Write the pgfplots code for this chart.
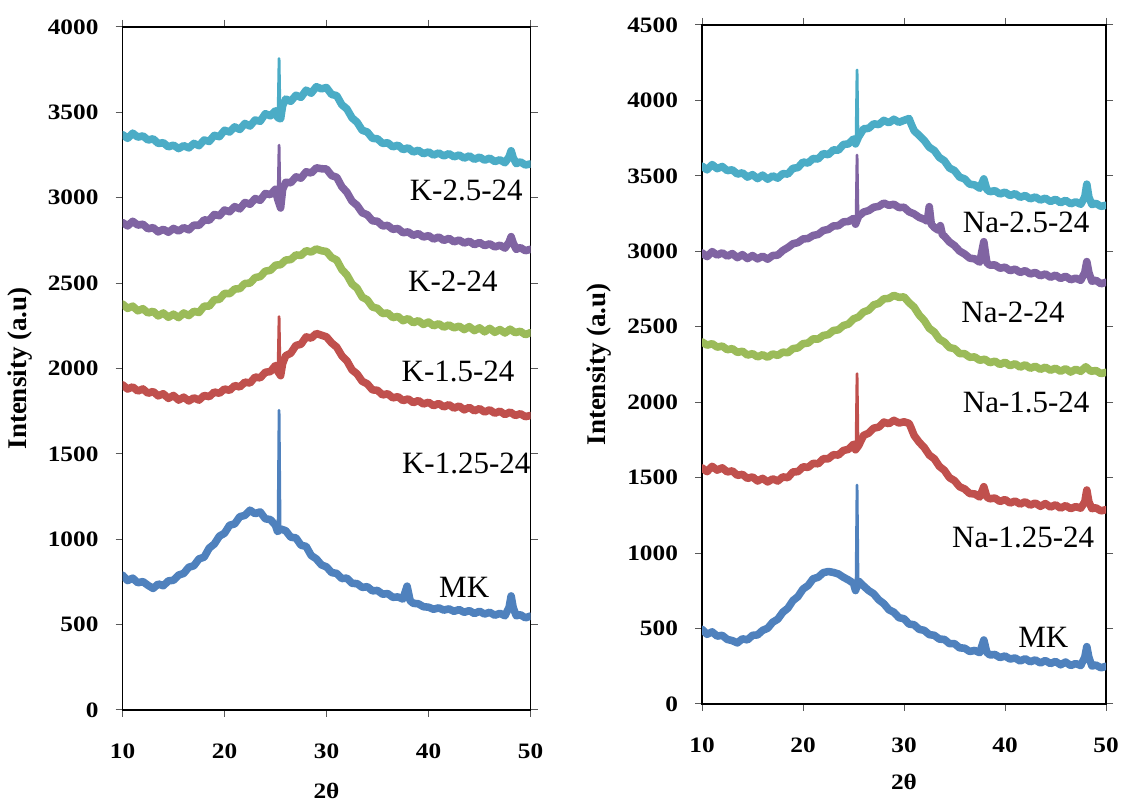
\documentclass[border=0pt]{standalone}
\usepackage{fontspec}
\setmainfont{Liberation Serif}
\newfontfamily\tickfont[FakeStretch=1.15]{Liberation Serif}
\usepackage{pgfplots}
\pgfplotsset{compat=1.18}
\definecolor{cCy}{HTML}{4BACC6}
\definecolor{cPu}{HTML}{8064A2}
\definecolor{cGr}{HTML}{9BBB59}
\definecolor{cRe}{HTML}{C0504D}
\definecolor{cBl}{HTML}{4F81BD}
\pgfplotsset{xrd/.style={
  scale only axis, xmin=10, xmax=50, xtick={10,20,30,40,50},
  tick align=outside, major tick length=3.5pt,
  tick style={gray!70!black, line width=0.5pt},
  axis line style={black, line width=0.7pt},
  ticklabel style={font=\tickfont\bfseries\fontsize{11}{13}\selectfont},
  /pgf/number format/assume math mode=true,
  /pgf/number format/set thousands separator={},
  xticklabel style={yshift=-10pt},
  yticklabel style={xshift=-5pt},
  xlabel={2θ}, ylabel={Intensity (a.u)},
  ylabel style={font=\bfseries\fontsize{13.5}{15}\selectfont},
  xlabel style={font=\tickfont\bfseries\fontsize{11}{13}\selectfont},
  clip mode=individual,
  every axis plot/.append style={line width=3.8pt, line join=round, line cap=round},
}}
\tikzset{lab/.style={font=\fontsize{15.5}{18}\selectfont, anchor=center}}
\begin{document}
\begin{tikzpicture}
\useasboundingbox (0,0) rectangle (561pt,403pt);
% ---------------- left panel ----------------
\begin{axis}[xrd, at={(61.25pt,48pt)}, anchor=south west, width=204pt, height=341.5pt,
  ymin=0, ymax=4000, ytick={0,500,...,4000},
  xlabel style={at={(axis description cs:0.5,-0.118)}, anchor=center},
  ylabel style={at={(axis description cs:-0.25,0.5)}, anchor=center}]
% MK
\addplot[cBl] coordinates {(10,790)(10.5,758)(11,772)(11.5,745)(12,752)(12.5,730)(13,712)(13.5,738)(14,728)(14.5,756)(15,760)(15.5,790)(16,800)(16.5,836)(17,845)(17.5,885)(18,895)(18.5,948)(19,972)(19.5,1018)(20,1035)(20.5,1082)(21,1090)(21.5,1132)(22,1140)(22.5,1170)(23,1150)(23.5,1160)(24,1120)(24.5,1115)(25,1082)(25.2,1045)(25.5,1060)(26,1050)(26.5,1012)(27,1008)(27.5,965)(28,958)(28.5,905)(29,885)(29.5,850)(30,838)(30.5,805)(31,800)(31.5,770)(32,772)(32.5,742)(33,740)(33.5,718)(34,722)(34.5,698)(35,700)(35.5,678)(36,682)(36.5,660)(37,662)(37.5,650)(37.9,725)(38.2,640)(38.5,625)(39,622)(39.5,605)(40,602)(40.5,590)(41,598)(41.5,585)(42,592)(42.5,578)(43,588)(43.5,572)(44,582)(44.5,565)(45,578)(45.5,562)(46,572)(46.5,555)(47,566)(47.5,552)(47.9,600)(48.1,668)(48.3,600)(48.6,552)(49,558)(49.5,540)(50,550)};
\addplot[cBl, line width=1.4pt] coordinates {(25.25,1050)(25.35,1755)(25.45,1070)};
% red
\addplot[cRe] coordinates {(10,1905)(10.5,1880)(11,1892)(11.5,1868)(12,1880)(12.5,1855)(13,1865)(13.5,1840)(14,1852)(14.5,1825)(15,1842)(15.5,1815)(16,1832)(16.5,1810)(17,1828)(17.5,1815)(18,1842)(18.5,1835)(19,1862)(19.5,1855)(20,1880)(20.5,1872)(21,1900)(21.5,1892)(22,1920)(22.5,1915)(23,1950)(23.5,1945)(24,1978)(24.5,1982)(25,2018)(25.2,1985)(25.5,1958)(25.7,2030)(26,2075)(26.5,2090)(27,2135)(27.5,2142)(28,2185)(28.5,2178)(29,2205)(29.5,2195)(30,2185)(30.5,2150)(31,2125)(31.5,2075)(32,2045)(32.5,1992)(33,1968)(33.5,1925)(34,1910)(34.5,1875)(35,1872)(35.5,1845)(36,1852)(36.5,1828)(37,1835)(37.5,1812)(38,1822)(38.5,1800)(39,1812)(39.5,1792)(40,1802)(40.5,1782)(41,1795)(41.5,1775)(42,1788)(42.5,1768)(43,1780)(43.5,1758)(44,1772)(44.5,1752)(45,1765)(45.5,1745)(46,1758)(46.5,1738)(47,1750)(47.5,1730)(48,1745)(48.5,1725)(49,1735)(49.5,1718)(50,1725)};
\addplot[cRe, line width=1.4pt] coordinates {(25.25,1990)(25.35,2304)(25.45,1965)};
% green
\addplot[cGr] coordinates {(10,2378)(10.5,2352)(11,2365)(11.5,2338)(12,2350)(12.5,2325)(13,2335)(13.5,2308)(14,2325)(14.5,2300)(15,2318)(15.5,2298)(16,2325)(16.5,2310)(17,2335)(17.5,2328)(18,2365)(18.5,2365)(19,2402)(19.5,2405)(20,2440)(20.5,2438)(21,2465)(21.5,2468)(22,2498)(22.5,2500)(23,2532)(23.5,2538)(24,2570)(24.5,2575)(25,2605)(25.5,2608)(26,2635)(26.5,2638)(27,2665)(27.5,2662)(28,2690)(28.5,2682)(29,2700)(29.5,2690)(30,2685)(30.5,2650)(31,2635)(31.5,2580)(32,2548)(32.5,2495)(33,2470)(33.5,2418)(34,2402)(34.5,2360)(35,2352)(35.5,2322)(36,2325)(36.5,2298)(37,2305)(37.5,2280)(38,2292)(38.5,2268)(39,2280)(39.5,2258)(40,2272)(40.5,2250)(41,2262)(41.5,2242)(42,2255)(42.5,2238)(43,2248)(43.5,2228)(44,2245)(44.5,2222)(45,2238)(45.5,2215)(46,2235)(46.5,2212)(47,2228)(47.5,2208)(48,2230)(48.5,2210)(49,2218)(49.5,2198)(50,2210)};
% purple
\addplot[cPu] coordinates {(10,2855)(10.5,2835)(11,2862)(11.5,2840)(12,2845)(12.5,2818)(13,2825)(13.5,2800)(14,2815)(14.5,2798)(15,2820)(15.5,2805)(16,2825)(16.5,2812)(17,2840)(17.5,2838)(18,2870)(18.5,2868)(19,2902)(19.5,2895)(20,2928)(20.5,2918)(21,2948)(21.5,2935)(22,2972)(22.5,2962)(23,2995)(23.5,2985)(24,3025)(24.5,3018)(25,3050)(25.2,2995)(25.5,2940)(25.7,3050)(26,3090)(26.5,3088)(27,3122)(27.5,3115)(28,3152)(28.5,3145)(29,3175)(29.5,3170)(30,3168)(30.5,3130)(31,3120)(31.5,3065)(32,3032)(32.5,2980)(33,2955)(33.5,2912)(34,2900)(34.5,2865)(35,2862)(35.5,2835)(36,2838)(36.5,2815)(37,2820)(37.5,2795)(38,2800)(38.5,2780)(39,2790)(39.5,2770)(40,2778)(40.5,2758)(41,2770)(41.5,2750)(42,2762)(42.5,2742)(43,2752)(43.5,2735)(44,2745)(44.5,2725)(45,2738)(45.5,2720)(46,2730)(46.5,2712)(47,2722)(47.5,2705)(47.9,2740)(48.1,2772)(48.3,2735)(48.6,2698)(49,2708)(49.5,2690)(50,2698)};
\addplot[cPu, line width=1.4pt] coordinates {(25.25,3000)(25.35,3308)(25.45,2950)};
% cyan
\addplot[cCy] coordinates {(10,3370)(10.5,3348)(11,3378)(11.5,3355)(12,3362)(12.5,3338)(13,3345)(13.5,3318)(14,3322)(14.5,3298)(15,3308)(15.5,3288)(16,3305)(16.5,3292)(17,3318)(17.5,3305)(18,3338)(18.5,3330)(19,3365)(19.5,3358)(20,3395)(20.5,3385)(21,3415)(21.5,3400)(22,3435)(22.5,3420)(23,3455)(23.5,3448)(24,3492)(24.5,3480)(25,3510)(25.2,3470)(25.5,3462)(25.7,3540)(26,3578)(26.5,3565)(27,3600)(27.5,3588)(28,3630)(28.5,3612)(29,3650)(29.5,3638)(30,3645)(30.5,3605)(31,3598)(31.5,3545)(32,3520)(32.5,3468)(33,3442)(33.5,3395)(34,3385)(34.5,3348)(35,3345)(35.5,3318)(36,3322)(36.5,3298)(37,3308)(37.5,3282)(38,3292)(38.5,3268)(39,3278)(39.5,3258)(40,3268)(40.5,3250)(41,3262)(41.5,3245)(42,3258)(42.5,3240)(43,3250)(43.5,3232)(44,3245)(44.5,3225)(45,3238)(45.5,3220)(46,3232)(46.5,3212)(47,3222)(47.5,3205)(47.9,3240)(48.1,3275)(48.3,3235)(48.6,3200)(49,3210)(49.5,3192)(50,3198)};
\addplot[cCy, line width=1.4pt] coordinates {(25.25,3475)(25.35,3815)(25.45,3470)};
\node[lab] at (axis cs:43.7,3041) {K-2.5-24};
\node[lab] at (axis cs:42.4,2512) {K-2-24};
\node[lab] at (axis cs:42.9,1982) {K-1.5-24};
\node[lab] at (axis cs:43.7,1441) {K-1.25-24};
\node[lab] at (axis cs:43.5,718) {MK};
\end{axis}
% ---------------- right panel ----------------
\begin{axis}[xrd, at={(351pt,51pt)}, anchor=south west, width=202pt, height=339.5pt,
  ymin=0, ymax=4500, ytick={0,500,...,4500},
  xlabel style={at={(axis description cs:0.5,-0.115)}, anchor=center},
  ylabel style={at={(axis description cs:-0.255,0.5)}, anchor=center}]
% MK
\addplot[cBl] coordinates {(10,495)(10.5,462)(11,478)(11.5,450)(12,455)(12.5,428)(13,420)(13.5,405)(14,432)(14.5,425)(15,455)(15.5,458)(16,488)(16.5,502)(17,542)(17.5,562)(18,608)(18.5,635)(19,685)(19.5,712)(20,762)(20.5,785)(21,830)(21.5,840)(22,870)(22.5,878)(23,872)(23.5,862)(24,840)(24.5,822)(25,800)(25.2,752)(25.5,815)(26,782)(26.5,752)(27,730)(27.5,690)(28,665)(28.5,625)(29,608)(29.5,572)(30,565)(30.5,530)(31,525)(31.5,495)(32,488)(32.5,460)(33,455)(33.5,430)(34,428)(34.5,400)(35,400)(35.5,372)(36,370)(36.5,348)(37,355)(37.5,340)(37.9,424)(38.2,342)(38.5,325)(39,328)(39.5,308)(40,318)(40.5,298)(41,305)(41.5,285)(42,300)(42.5,280)(43,292)(43.5,272)(44,288)(44.5,268)(45,282)(45.5,260)(46,278)(46.5,255)(47,268)(47.5,255)(47.9,310)(48.1,380)(48.3,310)(48.6,252)(49,258)(49.5,240)(50,250)};
\addplot[cBl, line width=1.4pt] coordinates {(25.25,760)(25.35,1451)(25.45,800)};
% red
\addplot[cRe] coordinates {(10,1565)(10.5,1540)(11,1575)(11.5,1550)(12,1565)(12.5,1538)(13,1545)(13.5,1515)(14,1522)(14.5,1495)(15,1505)(15.5,1478)(16,1495)(16.5,1472)(17,1492)(17.5,1478)(18,1505)(18.5,1500)(19,1538)(19.5,1540)(20,1572)(20.5,1568)(21,1595)(21.5,1592)(22,1625)(22.5,1625)(23,1652)(23.5,1650)(24,1680)(24.5,1688)(25,1722)(25.2,1685)(25.5,1712)(26,1780)(26.5,1795)(27,1828)(27.5,1835)(28,1868)(28.5,1858)(29,1880)(29.5,1862)(30,1870)(30.5,1860)(30.7,1830)(31,1780)(31.5,1735)(32,1700)(32.5,1650)(33,1625)(33.5,1575)(34,1548)(34.5,1500)(35,1480)(35.5,1440)(36,1425)(36.5,1395)(37,1392)(37.5,1372)(37.9,1440)(38.2,1372)(38.5,1360)(39,1365)(39.5,1342)(40,1355)(40.5,1332)(41,1345)(41.5,1325)(42,1340)(42.5,1318)(43,1332)(43.5,1310)(44,1328)(44.5,1305)(45,1320)(45.5,1298)(46,1315)(46.5,1295)(47,1308)(47.5,1298)(47.9,1340)(48.1,1418)(48.3,1340)(48.6,1295)(49,1300)(49.5,1280)(50,1288)};
\addplot[cRe, line width=1.4pt] coordinates {(25.25,1690)(25.35,2189)(25.45,1700)};
% green
\addplot[cGr] coordinates {(10,2400)(10.5,2378)(11,2388)(11.5,2365)(12,2372)(12.5,2348)(13,2355)(13.5,2330)(14,2338)(14.5,2312)(15,2322)(15.5,2300)(16,2315)(16.5,2298)(17,2320)(17.5,2310)(18,2332)(18.5,2328)(19,2355)(19.5,2360)(20,2388)(20.5,2392)(21,2420)(21.5,2418)(22,2442)(22.5,2448)(23,2475)(23.5,2480)(24,2508)(24.5,2518)(25,2552)(25.5,2565)(26,2598)(26.5,2610)(27,2645)(27.5,2655)(28,2685)(28.5,2688)(29,2708)(29.5,2695)(30,2698)(30.5,2660)(31,2630)(31.5,2578)(32,2542)(32.5,2490)(33,2465)(33.5,2418)(34,2398)(34.5,2362)(35,2355)(35.5,2322)(36,2322)(36.5,2298)(37,2300)(37.5,2278)(38,2285)(38.5,2262)(39,2272)(39.5,2250)(40,2265)(40.5,2242)(41,2255)(41.5,2232)(42,2248)(42.5,2225)(43,2238)(43.5,2218)(44,2232)(44.5,2212)(45,2225)(45.5,2205)(46,2222)(46.5,2200)(47,2218)(47.5,2205)(48,2235)(48.5,2205)(49,2210)(49.5,2190)(50,2198)};
% purple
\addplot[cPu] coordinates {(10,2990)(10.5,2965)(11,2998)(11.5,2975)(12,2990)(12.5,2968)(13,2985)(13.5,2958)(14,2978)(14.5,2952)(15,2972)(15.5,2950)(16,2968)(16.5,2948)(17,2972)(17.5,2975)(18,3005)(18.5,3025)(19,3050)(19.5,3058)(20,3082)(20.5,3085)(21,3105)(21.5,3112)(22,3138)(22.5,3145)(23,3168)(23.5,3170)(24,3195)(24.5,3198)(25,3218)(25.2,3180)(25.5,3232)(26,3260)(26.5,3270)(27,3292)(27.5,3298)(28,3320)(28.5,3305)(29,3312)(29.5,3290)(30,3292)(30.5,3262)(31,3248)(31.5,3225)(32,3212)(32.3,3200)(32.5,3296)(32.7,3180)(33,3158)(33.4,3140)(33.6,3170)(33.8,3110)(34,3100)(34.5,3062)(35,3038)(35.5,3002)(36,2982)(36.5,2955)(37,2950)(37.5,2928)(37.9,3064)(38.2,2925)(38.5,2908)(39,2910)(39.5,2888)(40,2895)(40.5,2872)(41,2882)(41.5,2860)(42,2872)(42.5,2850)(43,2860)(43.5,2838)(44,2850)(44.5,2828)(45,2842)(45.5,2820)(46,2835)(46.5,2812)(47,2822)(47.5,2808)(47.9,2860)(48.1,2932)(48.3,2860)(48.6,2802)(49,2808)(49.5,2785)(50,2795)};
\addplot[cPu, line width=1.4pt] coordinates {(25.25,3185)(25.35,3638)(25.45,3225)};
% cyan
\addplot[cCy] coordinates {(10,3565)(10.5,3540)(11,3575)(11.5,3548)(12,3562)(12.5,3535)(13,3540)(13.5,3512)(14,3520)(14.5,3492)(15,3508)(15.5,3482)(16,3505)(16.5,3478)(17,3500)(17.5,3485)(18,3515)(18.5,3512)(19,3550)(19.5,3555)(20,3592)(20.5,3585)(21,3615)(21.5,3612)(22,3648)(22.5,3640)(23,3672)(23.5,3670)(24,3708)(24.5,3712)(25,3745)(25.2,3712)(25.5,3758)(26,3812)(26.5,3815)(27,3845)(27.5,3840)(28,3868)(28.5,3852)(29,3875)(29.5,3855)(30,3868)(30.5,3880)(30.7,3845)(31,3800)(31.5,3768)(32,3735)(32.5,3690)(33,3668)(33.5,3622)(34,3600)(34.5,3552)(35,3535)(35.5,3492)(36,3480)(36.5,3445)(37,3440)(37.5,3418)(37.9,3480)(38.2,3410)(38.5,3395)(39,3402)(39.5,3380)(40,3392)(40.5,3370)(41,3382)(41.5,3358)(42,3370)(42.5,3348)(43,3360)(43.5,3340)(44,3352)(44.5,3330)(45,3345)(45.5,3322)(46,3338)(46.5,3315)(47,3328)(47.5,3312)(47.9,3360)(48.1,3445)(48.3,3360)(48.6,3310)(49,3318)(49.5,3298)(50,3305)};
\addplot[cCy, line width=1.4pt] coordinates {(25.25,3720)(25.35,4202)(25.45,3740)};
\node[lab] at (axis cs:42.1,3194) {Na-2.5-24};
\node[lab] at (axis cs:40.8,2598) {Na-2-24};
\node[lab] at (axis cs:42.1,2001) {Na-1.5-24};
\node[lab] at (axis cs:41.8,1107) {Na-1.25-24};
\node[lab] at (axis cs:43.8,444) {MK};
\end{axis}
\end{tikzpicture}
\end{document}
